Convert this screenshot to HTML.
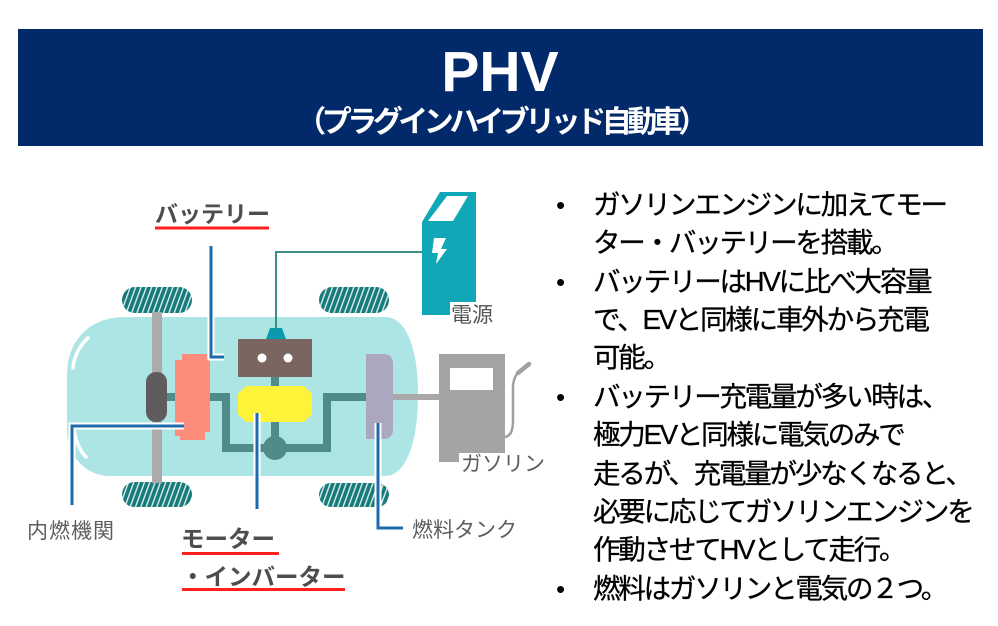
<!DOCTYPE html>
<html><head><meta charset="utf-8">
<style>
html,body{margin:0;padding:0;background:#fff;}
body{width:998px;height:626px;position:relative;overflow:hidden;font-family:"Liberation Sans","Noto Sans CJK JP",sans-serif;}
.band{position:absolute;left:18px;top:29px;width:965px;height:117px;background:#022a6b;}
.ln{position:absolute;left:593px;font-size:27.5px;letter-spacing:-2.2px;line-height:38.4px;height:38.4px;white-space:nowrap;color:#000;-webkit-text-stroke:0.3px #000;font-family:"Liberation Sans","Noto Sans CJK JP",sans-serif;}
.bl{position:absolute;left:556px;font-size:26px;line-height:38.4px;height:38.4px;color:#000;font-family:"Liberation Sans",sans-serif;}
svg{position:absolute;left:0;top:0;}
</style></head><body>
<div class="band"></div>
<svg width="998" height="626" viewBox="0 0 998 626" xmlns="http://www.w3.org/2000/svg">
<defs>
<pattern id="st" width="5" height="10" patternUnits="userSpaceOnUse" patternTransform="rotate(20)">
<rect width="5" height="10" fill="#177b79"/><rect x="0" width="1.4" height="10" fill="#ffffff" opacity="0.85"/>
</pattern>
</defs>
<!-- Title -->
<text x="500" y="91" text-anchor="middle" fill="#fff" font-family="Liberation Sans, sans-serif" font-weight="bold" font-size="57">PHV</text>
<text x="500" y="132" text-anchor="middle" fill="#fff" font-family="Liberation Sans, Noto Sans CJK JP, sans-serif" font-weight="bold" font-size="30" letter-spacing="-4.5">（プラグインハイブリッド自動車）</text>

<!-- wheels -->
<rect x="122" y="287" width="70" height="26" rx="13" fill="url(#st)"/>
<rect x="319" y="287" width="70" height="26" rx="13" fill="url(#st)"/>
<rect x="122" y="482" width="70" height="25" rx="12.5" fill="url(#st)"/>
<rect x="319" y="483" width="70" height="24" rx="12" fill="url(#st)"/>

<!-- car body -->
<path d="M125,317 L385,317 C405,317 418,345 418,395 C418,445 405,476 385,476 L110,476 C85,476 67,455 67,430 L67,375 C67,340 90,317 125,317 Z" fill="#ade5e5"/>
<path d="M88,338 C80,345 74,356 73,368" stroke="#fff" stroke-width="3.5" fill="none" stroke-linecap="round"/>
<path d="M74,430 C76,442 80,451 86,457" stroke="#fff" stroke-width="3.5" fill="none" stroke-linecap="round"/>

<!-- axle -->
<rect x="152" y="312" width="10" height="171" fill="#ababab"/>

<!-- teal drive lines -->
<g stroke="#4f8b89" stroke-width="8" fill="none">
<path d="M165,397 L178,397"/>
<path d="M208,397 L226,397 L226,448 L327,448 L327,397 L368,397"/>
<path d="M275,375 L275,448"/>
</g>
<circle cx="275" cy="448" r="12" fill="#4f8b89"/>

<!-- engine -->
<rect x="146" y="372" width="21" height="50" rx="10" fill="#5e5c5c"/>
<!-- generator salmon -->
<polygon points="182,354 207,354 207,358 210,358 210,432 205,432 205,440 180,440 180,436 175,436 175,360 182,360" fill="#fd8c7c"/>

<!-- battery -->
<rect x="238" y="339" width="74" height="38" fill="#7b6561"/>
<circle cx="262" cy="358" r="4.5" fill="#fff"/>
<circle cx="288" cy="358" r="4.5" fill="#fff"/>
<polygon points="270,328 282,328 286,339 266,339" fill="#0a9aab"/>
<!-- yellow inverter -->
<polygon points="246,386 304,386 312,394 312,414 304,422 246,422 238,414 238,394" fill="#fff33a"/>

<!-- fuel tank -->
<path d="M366,354 L383,354 Q393,354 393,364 L393,429 Q393,439 383,439 L366,439 Z" fill="#aba7bf"/>
<!-- pipe to pump -->
<rect x="393" y="394" width="47" height="6" fill="#a8a8a8"/>

<!-- gas pump -->
<rect x="439" y="354" width="66" height="108" fill="#a4a4a4"/>
<rect x="450" y="368" width="43" height="22" fill="#fff"/>
<path d="M505,437 C511,436 513,430 513,420 L513,388 C513,380 515,376 518,373" stroke="#a0a0a0" stroke-width="2.5" fill="none"/>
<path d="M518,373 L529,364" stroke="#a0a0a0" stroke-width="4.5" fill="none" stroke-linecap="round"/>
<rect x="459" y="453" width="90" height="26" fill="#fff"/>
<text x="461" y="471" fill="#5d5d5d" font-family="Liberation Sans, Noto Sans CJK JP, sans-serif" font-size="21">ガソリン</text>

<!-- charger -->
<polygon points="440,192 476,192 476,315 422,315 422,222" fill="#10a7b6"/>
<polygon points="447,196 468,196 453,221 428,221" fill="#fff"/>
<polygon points="434,238 446,238 441,249 447,249 436,264 438,253 432,253" fill="#fff"/>
<rect x="450" y="302" width="52" height="28" fill="#fff"/>
<text x="451" y="322" fill="#555" font-family="Liberation Sans, Noto Sans CJK JP, sans-serif" font-size="21">電源</text>
<!-- charge line -->
<path d="M276,328 L276,252 L422,252" stroke="#3e8f8c" stroke-width="2" fill="none"/>

<!-- leader lines -->
<g fill="none" stroke-linejoin="miter">
<g stroke="#fff" stroke-width="7">
<path d="M211,246 L211,357 L224,357"/>
<path d="M184,426 L72,426 L72,505"/>
<path d="M257,413 L257,509"/>
<path d="M378,423 L378,528 L403,528"/>
</g>
<g stroke="#1d6aac" stroke-width="3">
<path d="M211,246 L211,357 L224,357"/>
<path d="M184,426 L72,426 L72,505"/>
<path d="M257,413 L257,509"/>
<path d="M378,423 L378,528 L403,528"/>
</g>
</g>

<!-- labels -->
<text x="155" y="222" fill="#4d4d4d" font-family="Liberation Sans, Noto Sans CJK JP, sans-serif" font-weight="bold" font-size="23">バッテリー</text>
<rect x="155" y="226.5" width="114" height="3" fill="#ff1f1f"/>
<text x="27" y="538" fill="#5d5d5d" font-family="Liberation Sans, Noto Sans CJK JP, sans-serif" font-size="21" letter-spacing="1">内燃機関</text>
<text x="412" y="537" fill="#5d5d5d" font-family="Liberation Sans, Noto Sans CJK JP, sans-serif" font-size="21">燃料タンク</text>
<text x="181" y="547" fill="#4d4d4d" font-family="Liberation Sans, Noto Sans CJK JP, sans-serif" font-weight="bold" font-size="23.5">モーター</text>
<rect x="182" y="552" width="97" height="3" fill="#ff1f1f"/>
<text x="181" y="585" fill="#4d4d4d" font-family="Liberation Sans, Noto Sans CJK JP, sans-serif" font-weight="bold" font-size="23.5">・インバーター</text>
<rect x="182" y="588" width="163" height="3" fill="#ff1f1f"/>
</svg>

<div class="bl" style="top:185.8px">•</div>
<div class="ln" style="top:185.8px">ガソリンエンジンに加えてモー</div>
<div class="ln" style="top:224.2px">ター・バッテリーを搭載。</div>
<div class="bl" style="top:262.6px">•</div>
<div class="ln" style="top:262.6px">バッテリーはHVに比べ大容量</div>
<div class="ln" style="top:301px">で、EVと同様に車外から充電</div>
<div class="ln" style="top:339.4px">可能。</div>
<div class="bl" style="top:377.8px">•</div>
<div class="ln" style="top:377.8px">バッテリー充電量が多い時は、</div>
<div class="ln" style="top:416.2px">極力EVと同様に電気のみで</div>
<div class="ln" style="top:454.6px">走るが、充電量が少なくなると、</div>
<div class="ln" style="top:493px">必要に応じてガソリンエンジンを</div>
<div class="ln" style="top:531.4px">作動させてHVとして走行。</div>
<div class="bl" style="top:569.8px">•</div>
<div class="ln" style="top:569.8px">燃料はガソリンと電気の２つ。</div>
</body></html>
